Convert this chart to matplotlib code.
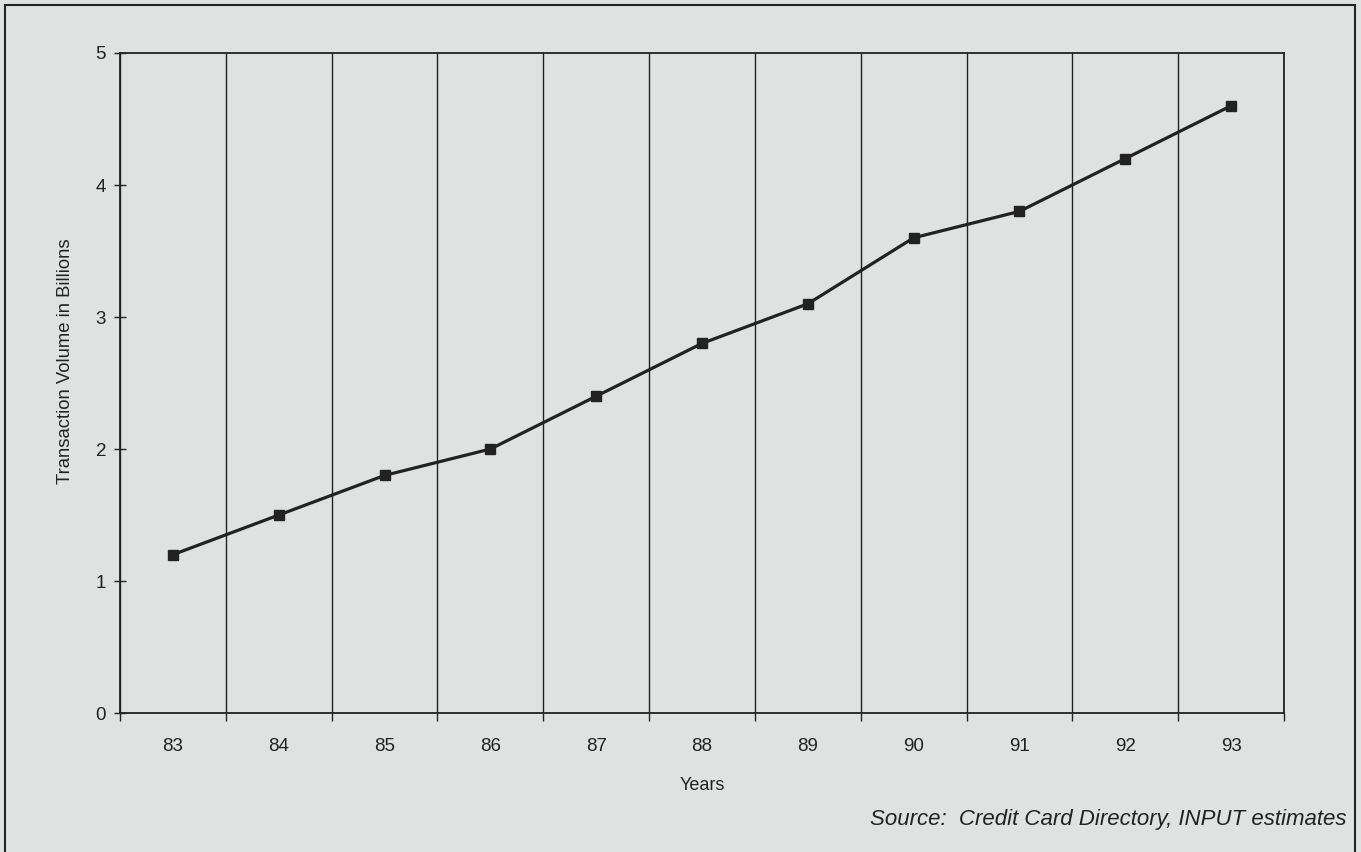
import numpy as np
import matplotlib.pyplot as plt
from matplotlib.patches import Rectangle

# Data
years = ['83', '84', '85', '86', '87', '88', '89', '90', '91', '92', '93']
volume = [1.2, 1.5, 1.8, 2.0, 2.4, 2.8, 3.1, 3.6, 3.8, 4.2, 4.6]
y_ticks = [0, 1, 2, 3, 4, 5]

plt.rcParams['font.family'] = ['Liberation Sans', 'DejaVu Sans']
bg = '#dfe2e0'
ink = '#222222'

fig = plt.figure(figsize=(13.61, 8.52), dpi=100, facecolor=bg)
ax = fig.add_axes([0.0882, 0.1631, 0.8552, 0.7747], facecolor=bg)

# outer frame around the whole chart
fig.patches.append(Rectangle((5 / 1361, -0.05), 1350 / 1361, 1 - 5 / 852 + 0.05,
                             transform=fig.transFigure, fill=False,
                             edgecolor=ink, linewidth=1.5))

x = np.arange(len(years))
ax.plot(x, volume, color=ink, linewidth=2.3, marker='s', markersize=7.5,
        markerfacecolor=ink, markeredgecolor=ink, zorder=3)

ax.set_xlim(-0.5, len(years) - 0.5)
ax.set_ylim(0, 5)
ax.set_yticks(y_ticks)
ax.set_xticks(x)
ax.set_xticklabels(years)
ax.set_xticks(np.arange(-0.5, len(years), 1), minor=True)

# vertical lines between the categories
ax.grid(True, which='minor', axis='x', color=ink, linewidth=1.0)
ax.tick_params(axis='x', which='major', length=0, pad=18, labelsize=13.5, colors=ink)
ax.tick_params(axis='x', which='minor', length=6, width=1.0, color=ink, direction='out')
ax.tick_params(axis='y', length=8, width=1.0, color=ink, direction='inout',
               labelsize=13.5, pad=6, labelcolor=ink)

for s in ax.spines.values():
    s.set_color(ink)
    s.set_linewidth(1.3)

ax.set_xlabel('Years', fontsize=13, color=ink, labelpad=16)
ax.set_ylabel('Transaction Volume in Billions', fontsize=13.3, color=ink)
ax.yaxis.set_label_coords((74 - 120) / 1164, (713 - 361) / 660)

fig.text(1347 / 1361, 1 - 820 / 852, 'Source:  Credit Card Directory, INPUT estimates',
         ha='right', va='center', style='italic', fontsize=16, color=ink)

fig.savefig('out.png', dpi=100, facecolor=bg)
